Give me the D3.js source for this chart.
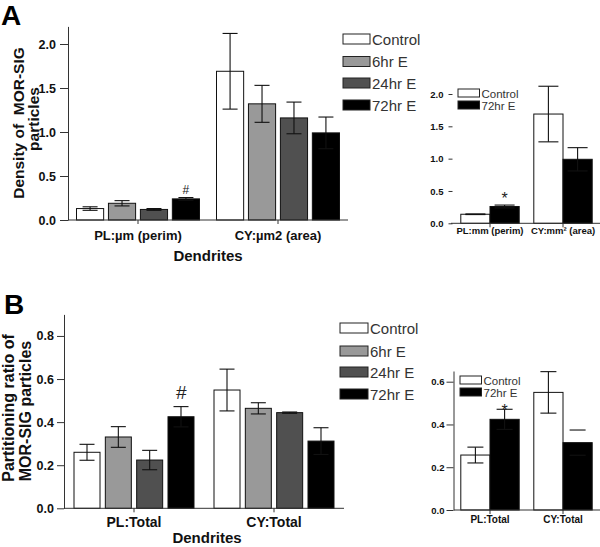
<!DOCTYPE html>
<html><head><meta charset="utf-8">
<script src="https://cdn.jsdelivr.net/npm/d3@7"></script>
<style>
body{margin:0;background:#fff;}
text{font-family:"Liberation Sans",Arial,sans-serif;}
</style></head>
<body>
<script>
// ---------- DATA ----------
const seriesNames = ["Control", "6hr E", "24hr E", "72hr E"];
const seriesColors = ["#ffffff", "#999999", "#505050", "#000000"];

// Panel A main (density)
const groupsA = ["PL:µm (perim)", "CY:µm2 (area)"];
const densControl = [0.13, 1.69], densControlErr = [0.02, 0.43];
const dens6hr = [0.19, 1.32], dens6hrErr = [0.03, 0.21];
const dens24hr = [0.12, 1.16], dens24hrErr = [0.01, 0.18];
const dens72hr = [0.24, 0.99], dens72hrErr = [0.015, 0.18];
const ticksA = [0, 0.5, 1.0, 1.5, 2.0];

// Panel A inset
const groupsAi = ["PL:mm (perim)", "CY:mm² (area)"];
const insetSeries = ["Control", "72hr E"];
const densIControl = [0.14, 1.69], densIControlErr = [0.005, 0.43];
const densI72hr = [0.26, 0.99], densI72hrErr = [0.022, 0.18];

// Panel B main (partitioning ratio)
const groupsB = ["PL:Total", "CY:Total"];
const partControl = [0.26, 0.549], partControlErr = [0.037, 0.097];
const part6hr = [0.331, 0.464], part6hrErr = [0.048, 0.026];
const part24hr = [0.224, 0.444], part24hrErr = [0.045, 0.003];
const part72hr = [0.425, 0.312], part72hrErr = [0.047, 0.062];
const ticksB = [0, 0.2, 0.4, 0.6, 0.8];

// Panel B inset
const partIControl = [0.257, 0.55], partIControlErr = [0.037, 0.097];
const partI72hr = [0.424, 0.315], partI72hrErr = [0.047, 0.059];
const ticksBi = [0, 0.2, 0.4, 0.6];

// ---------- DRAW ----------
const svg = d3.select("body").append("svg").attr("width", 600).attr("height", 547);

function panel(cfg) {
  const g = svg.append("g");
  const x0 = d3.scaleBand().domain(cfg.groups).range(cfg.xRange);
  const x1 = d3.scaleBand().domain(cfg.series)
    .range([cfg.inset, x0.bandwidth() - cfg.inset]).paddingInner(cfg.barPad);
  const y = d3.scaleLinear().domain(cfg.yDomain).range(cfg.yRange);

  // bars
  cfg.series.forEach((s, si) => {
    cfg.groups.forEach((grp, gi) => {
      const v = cfg.values[si][gi];
      g.append("rect")
        .attr("x", x0(grp) + x1(s)).attr("y", y(v))
        .attr("width", x1.bandwidth()).attr("height", y(0) - y(v))
        .attr("fill", cfg.colors[si]).attr("stroke", "#111").attr("stroke-width", 1);
    });
  });
  // error bars
  cfg.series.forEach((s, si) => {
    cfg.groups.forEach((grp, gi) => {
      const v = cfg.values[si][gi], e = cfg.errs[si][gi];
      const cx = x0(grp) + x1(s) + x1.bandwidth() / 2;
      const hide = cfg.noStem && cfg.noStem[si] && cfg.noStem[si][gi];
      const eg = g.append("g").attr("stroke", "#111").attr("stroke-width", 1.1);
      if (!hide) eg.append("line").attr("x1", cx).attr("x2", cx).attr("y1", y(v - e)).attr("y2", y(v + e));
      [v - e, v + e].forEach(ev => {
        eg.append("line").attr("x1", cx - cfg.cap / 2).attr("x2", cx + cfg.cap / 2)
          .attr("y1", y(ev)).attr("y2", y(ev));
      });
    });
  });

  // y axis
  const ya = g.append("g").attr("transform", `translate(${cfg.xRange[0]},0)`)
    .call(d3.axisLeft(y).tickValues(cfg.yTicks).tickFormat(d3.format(".1f"))
      .tickSizeInner(cfg.tickSize).tickSizeOuter(0).tickPadding(cfg.tickPad));
  ya.selectAll("text").attr("font-size", cfg.tickFont).attr("font-weight", "bold").attr("fill", "#111")
    .attr("font-family", '"Liberation Sans",Arial,sans-serif');
  ya.selectAll("line").attr("stroke", "#333");
  ya.select(".domain").attr("stroke", "#333");
  if (cfg.hideYDomain) {
    ya.select(".domain").remove();
    ya.selectAll(".tick line").attr("x1", -cfg.tickGap).attr("x2", -cfg.tickGap - 4);
  }

  // x axis
  const xa = g.append("g").attr("transform", `translate(0,${y(0)})`)
    .call(d3.axisBottom(x0).tickSizeInner(4).tickSizeOuter(0));
  xa.selectAll("line").attr("stroke", "#333");
  xa.select(".domain").attr("stroke", "#333").attr("d", `M${cfg.xAxisExtent[0]},0H${cfg.xAxisExtent[1]}`);
  xa.selectAll("text").attr("y", cfg.xLabelBase).attr("dy", 0)
    .attr("font-size", cfg.xFont).attr("font-weight", "bold").attr("fill", "#111")
    .attr("font-family", '"Liberation Sans",Arial,sans-serif');

  // legend
  cfg.series.forEach((s, si) => {
    g.append("rect").attr("x", cfg.legend.x).attr("y", cfg.legend.tops[si])
      .attr("width", cfg.legend.w).attr("height", cfg.legend.h)
      .attr("fill", cfg.colors[si]).attr("stroke", "#222").attr("stroke-width", 1);
    g.append("text").attr("x", cfg.legend.x + cfg.legend.w + 2)
      .attr("y", cfg.legend.tops[si] + cfg.legend.h + 0.5)
      .attr("font-size", cfg.legend.font).attr("fill", "#333").text(s);
  });
  return { x0, x1, y };
}

// Panel A main
const pA = panel({
  groups: groupsA, series: seriesNames, colors: seriesColors,
  values: [densControl, dens6hr, dens24hr, dens72hr],
  errs: [densControlErr, dens6hrErr, dens24hrErr, dens72hrErr],
  xRange: [68, 348], inset: 8.5, barPad: 0.15,
  yDomain: [0, 2.2], yRange: [220, 26.4], yTicks: ticksA,
  tickSize: 8, tickPad: 4, tickFont: 12.5, cap: 15,
  xAxisExtent: [68, 348], xLabelBase: 20, xFont: 13,
  legend: { x: 343, w: 27, h: 10, tops: [34, 56.5, 78, 100], font: 15 }
});
// Panel A inset
const pAi = panel({
  groups: groupsAi, series: insetSeries, colors: ["#ffffff", "#000000"],
  values: [densIControl, densI72hr], errs: [densIControlErr, densI72hrErr],
  xRange: [453.5, 599.5], inset: 7.3, barPad: 0,
  yDomain: [0, 2.0], yRange: [223.3, 94], yTicks: ticksA,
  tickSize: 4, tickPad: 6, tickFont: 9.5, cap: 20, hideYDomain: true, tickGap: 1,
  xAxisExtent: [451, 600], xLabelBase: 11, xFont: 9.5,
  legend: { x: 458, w: 21.5, h: 8, tops: [89, 101], font: 11.5 }
});
// Panel B main
const pB = panel({
  groups: groupsB, series: seriesNames, colors: seriesColors,
  values: [partControl, part6hr, part24hr, part72hr],
  errs: [partControlErr, part6hrErr, part24hrErr, part72hrErr],
  xRange: [64, 344], inset: 10, barPad: 0.17,
  yDomain: [0, 0.9], yRange: [508.3, 314.4], yTicks: ticksB,
  tickSize: 7, tickPad: 3, tickFont: 12.5, cap: 15,
  xAxisExtent: [64, 344], xLabelBase: 19, xFont: 14,
  legend: { x: 340, w: 28, h: 10, tops: [323, 346, 367, 389], font: 15 }
});
// Panel B inset
const pBi = panel({
  groups: groupsB, series: insetSeries, colors: ["#ffffff", "#000000"],
  values: [partIControl, partI72hr], errs: [partIControlErr, partI72hrErr],
  noStem: [[false, false], [false, true]],
  xRange: [453.5, 599.5], inset: 7.3, barPad: 0,
  yDomain: [0, 0.65], yRange: [510, 371], yTicks: ticksBi,
  tickSize: 7, tickPad: 2, tickFont: 9.5, cap: 16,
  xAxisExtent: [454, 600], xLabelBase: 13, xFont: 10,
  legend: { x: 460, w: 21.5, h: 8, tops: [376, 388], font: 11.5 }
});

// significance marks
function mark(p, grp, ser, val, err, sym, dy, size, style) {
  const cx = p.x0(grp) + p.x1(ser) + p.x1.bandwidth() / 2;
  svg.append("text").attr("x", cx).attr("y", p.y(val + err) + dy)
    .attr("text-anchor", "middle").attr("font-size", size)
    .attr("font-style", style || "normal").attr("fill", "#222").text(sym);
}
mark(pA, groupsA[0], "72hr E", dens72hr[0], dens72hrErr[0], "#", -4, 12);
mark(pB, groupsB[0], "72hr E", part72hr[0], part72hrErr[0], "#", -8, 19, "italic");
mark(pAi, groupsAi[0], "72hr E", densI72hr[0], densI72hrErr[0], "*", -1, 16);
mark(pBi, groupsB[0], "72hr E", partI72hr[0], partI72hrErr[0], "*", 7, 16);

// axis titles
function vtitle(x, y, txt, size) {
  svg.append("text").attr("transform", `translate(${x},${y}) rotate(-90)`)
    .attr("text-anchor", "middle").attr("font-size", size).attr("font-weight", "bold")
    .attr("fill", "#111").style("white-space", "pre").text(txt);
}
vtitle(24, 123, "Density of  MOR-SIG", 15.5);
vtitle(39, 119, "particles", 15.5);
vtitle(14, 408, "Partitioning ratio of", 16);
vtitle(31, 411, "MOR-SIG particles", 16);

svg.append("text").attr("x", 208).attr("y", 261).attr("text-anchor", "middle")
  .attr("font-size", 15).attr("font-weight", "bold").attr("fill", "#111").text("Dendrites");
svg.append("text").attr("x", 207).attr("y", 543).attr("text-anchor", "middle")
  .attr("font-size", 15).attr("font-weight", "bold").attr("fill", "#111").text("Dendrites");

// panel letters
svg.append("text").attr("x", 1).attr("y", 25).attr("font-size", 28).attr("font-weight", "bold").text("A");
svg.append("text").attr("x", 4).attr("y", 314).attr("font-size", 28).attr("font-weight", "bold").text("B");
</script>
</body></html>
